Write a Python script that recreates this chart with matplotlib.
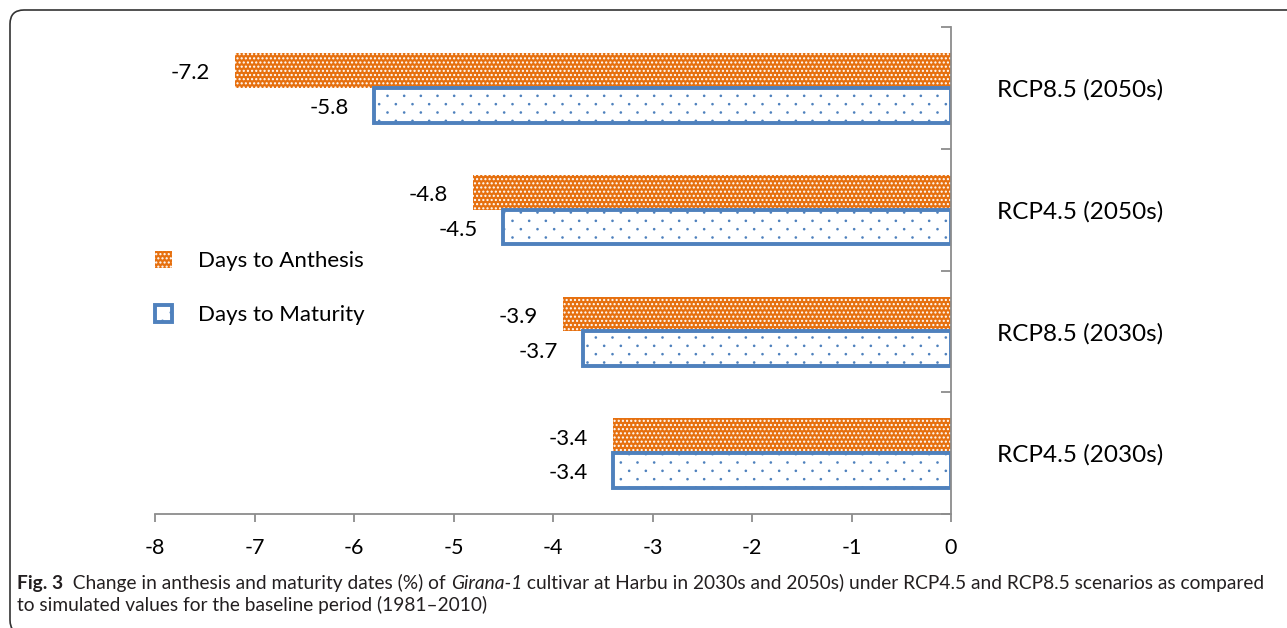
import numpy as np
import matplotlib
matplotlib.use("Agg")
import matplotlib.pyplot as plt
import matplotlib.hatch as mhatch
from matplotlib.patches import Patch, FancyBboxPatch
from matplotlib.transforms import IdentityTransform

plt.rcParams["font.family"] = ["Lato", "DejaVu Sans"]
plt.rcParams["hatch.linewidth"] = 1.0

scenarios = ["RCP4.5 (2030s)", "RCP8.5 (2030s)", "RCP4.5 (2050s)", "RCP8.5 (2050s)"]
anthesis = [-3.4, -3.9, -4.8, -7.2]
maturity = [-3.4, -3.7, -4.5, -5.8]
xticks = [-8, -7, -6, -5, -4, -3, -2, -1, 0]

ORANGE = "#E6700F"
BLUE = "#4F81BD"
GREY = "#8C8C8C"


class Dots(mhatch.SmallFilledCircles):
    """A single '.' gives sparse staggered pin dots (6 cols x 12 rows per tile);
    more dots fall back to the stock pattern."""

    def __init__(self, hatch, density):
        self.sparse = hatch.count(".") == 1
        super().__init__(hatch, density)
        if self.sparse:
            pts = []
            for j in range(12):
                for i in range(6):
                    pts.append(((i + 0.25 + 0.5 * (j % 2)) / 6, (j + 0.5) / 12))
            self.pts = np.array(pts)
            self.num_vertices = len(self.pts) * len(self.shape_vertices)

    def set_vertices_and_codes(self, vertices, codes):
        if not self.sparse:
            return super().set_vertices_and_codes(vertices, codes)
        shape = self.shape_vertices * 0.006
        np.concatenate([shape + p for p in self.pts], out=vertices)
        np.concatenate([self.shape_codes] * len(self.pts), out=codes)


mhatch._hatch_types = [Dots if h is mhatch.SmallFilledCircles else h
                       for h in mhatch._hatch_types]

W, H = 1287, 628
fig = plt.figure(figsize=(W / 100, H / 100), dpi=100)
ax = fig.add_axes([155 / W, (H - 514) / H, (951 - 155) / W, (514 - 27) / H])

y = np.arange(len(scenarios))
bh = 0.285
off = 0.1425

ax.barh(y + off, anthesis, height=bh, color=ORANGE, edgecolor="white",
        hatch="....", linewidth=0, label="Days to Anthesis")
ax.barh(y - off, maturity, height=bh, color="white", edgecolor=BLUE,
        hatch=".", linewidth=2.8, label="Days to Maturity")

# value labels left of the bar ends
for yi, a, m in zip(y, anthesis, maturity):
    ax.annotate(f"{a:.1f}", xy=(a, yi + off), xytext=(-18, -2), textcoords="offset points",
                ha="right", va="center", fontsize=16)
    ax.annotate(f"{m:.1f}", xy=(m, yi - off), xytext=(-18, -2), textcoords="offset points",
                ha="right", va="center", fontsize=16)

ax.set_xlim(-8, 0)
ax.set_ylim(-0.5, len(scenarios) - 0.5)

for s in ["left", "top"]:
    ax.spines[s].set_visible(False)
for s in ["right", "bottom"]:
    ax.spines[s].set_color(GREY)
    ax.spines[s].set_linewidth(1.3)

ax.set_xticks(xticks)
ax.set_xticklabels([str(t) for t in xticks])
ax.tick_params(axis="x", direction="out", length=6, width=1.3, color=GREY,
               labelsize=15.5, pad=11)

ax.yaxis.tick_right()
ax.set_yticks(y)
ax.set_yticklabels(scenarios)
ax.set_yticks(np.arange(-0.5, len(scenarios)), minor=True)
ax.tick_params(axis="y", which="major", length=0, pad=33, labelsize=17.5)
ax.tick_params(axis="y", which="minor", direction="in", length=7, width=1.3, color=GREY)

handles = [
    Patch(facecolor=ORANGE, edgecolor="white", hatch="....", linewidth=0),
    Patch(facecolor="white", edgecolor=BLUE, hatch=".", linewidth=2.8),
]
ax.legend(handles, ["Days to Anthesis", "Days to Maturity"], loc="upper left",
          bbox_to_anchor=(0.0, 0.541), frameon=False, fontsize=16,
          handlelength=0.77, handleheight=0.8, handletextpad=1.15,
          labelspacing=1.52, borderpad=0, borderaxespad=0)

# rounded frame around the figure panel
frame = FancyBboxPatch((10, -6), W + 20, H - 10 + 6,
                       boxstyle="round,pad=0,rounding_size=14",
                       transform=IdentityTransform(), fill=False,
                       edgecolor="#333333", linewidth=1.2)
fig.add_artist(frame)

# caption
CAP = 13.8
cap_kw = dict(fontsize=CAP, color="#231F20", annotation_clip=False)
t0 = fig.text(17 / W, (H - 589) / H, "Fig. 3", fontweight="bold", fontsize=CAP,
              color="#231F20", va="baseline")
t1 = ax.annotate("  Change in anthesis and maturity dates (%) of ", xy=(1, 0), xycoords=t0,
                 ha="left", va="bottom", **cap_kw)
t2 = ax.annotate("Girana-1", xy=(1, 0), xycoords=t1, ha="left", va="bottom",
                 style="italic", **cap_kw)
t3 = ax.annotate(" cultivar at Harbu in 2030s and 2050s) under RCP4.5 and RCP8.5 scenarios as compared",
                 xy=(1, 0), xycoords=t2, ha="left", va="bottom", **cap_kw)
fig.text(17 / W, (H - 611) / H, "to simulated values for the baseline period (1981\u20132010)",
         fontsize=CAP, color="#231F20", va="baseline")

fig.savefig("out.png", dpi=100)
